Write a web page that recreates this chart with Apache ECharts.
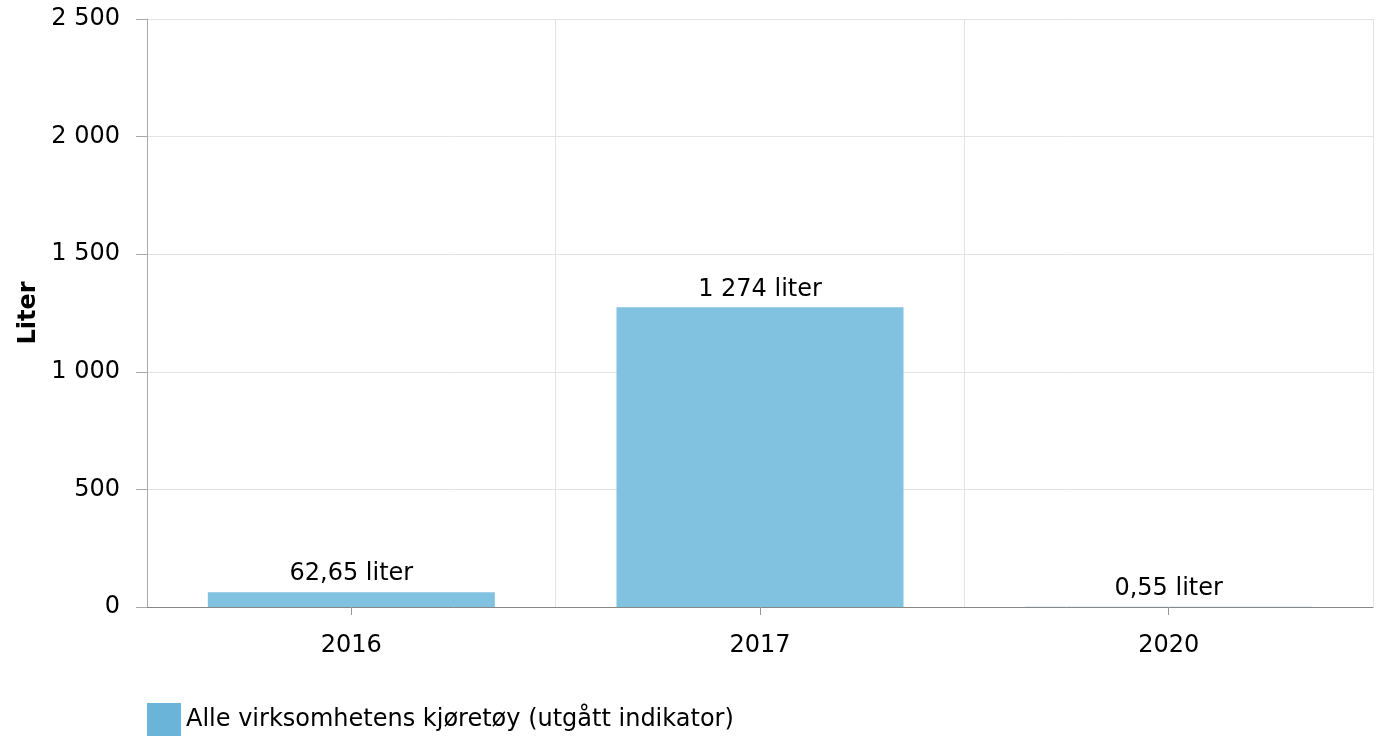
<!DOCTYPE html>
<html><head><meta charset="utf-8">
<script src="https://cdn.jsdelivr.net/npm/echarts@6/dist/echarts.min.js"></script>
<style>html,body{margin:0;padding:0;background:#fff}#c{width:1377px;height:737px}</style>
</head><body><div id="c"></div>
<script>
const categories = ['2016', '2017', '2020'];
const values = [62.65, 1274, 0.55];
const seriesName = 'Alle virksomhetens kjøretøy (utgått indikator)';
const yTicks = [0, 500, 1000, 1500, 2000, 2500];

function fmt(v) {
  const parts = String(v).split('.');
  parts[0] = parts[0].replace(/\B(?=(\d{3})+(?!\d))/g, ' ');
  return parts.join(',');
}
const FONT = 'DejaVu Sans';
const FS = 24;
const chart = echarts.init(document.getElementById('c'));
chart.setOption({
  animation: false,
  textStyle: { fontFamily: FONT },
  grid: { left: 147, right: 4, top: 19, bottom: 130, containLabel: false },
  legend: {
    left: 147, top: 703, padding: 0, itemWidth: 34, itemHeight: 33, itemGap: 8,
    icon: 'rect',
    textStyle: { fontFamily: FONT, fontSize: FS, color: '#000' },
    data: [{ name: seriesName, itemStyle: { color: '#6ab4d9' } }]
  },
  xAxis: {
    type: 'category',
    data: categories,
    axisLine: { lineStyle: { color: '#888', width: 1 } },
    axisTick: { show: true, alignWithLabel: true, length: 8, lineStyle: { color: '#999' } },
    axisLabel: { fontFamily: FONT, fontSize: FS, color: '#000', margin: 27 },
    splitLine: { show: true, lineStyle: { color: '#e3e3e3' } }
  },
  yAxis: {
    type: 'value',
    min: yTicks[0], max: yTicks[yTicks.length - 1], interval: 500,
    name: 'Liter', nameLocation: 'middle', nameGap: 105,
    nameTextStyle: { fontFamily: FONT, fontSize: FS, fontWeight: 'bold', color: '#000' },
    axisLine: { show: true, lineStyle: { color: '#aaa' } },
    axisTick: { show: true, length: 11, lineStyle: { color: '#aaa' } },
    axisLabel: { fontFamily: FONT, fontSize: FS, color: '#000', margin: 27, formatter: v => fmt(v) },
    splitLine: { show: true, lineStyle: { color: '#e3e3e3' } }
  },
  series: [{
    name: seriesName,
    type: 'bar',
    data: values,
    barWidth: 287,
    itemStyle: { color: '#82c2e1' },
    label: {
      show: true, position: 'top', distance: 6,
      fontFamily: FONT, fontSize: FS, color: '#000',
      formatter: p => fmt(p.value) + ' liter'
    }
  }]
});
</script></body></html>
